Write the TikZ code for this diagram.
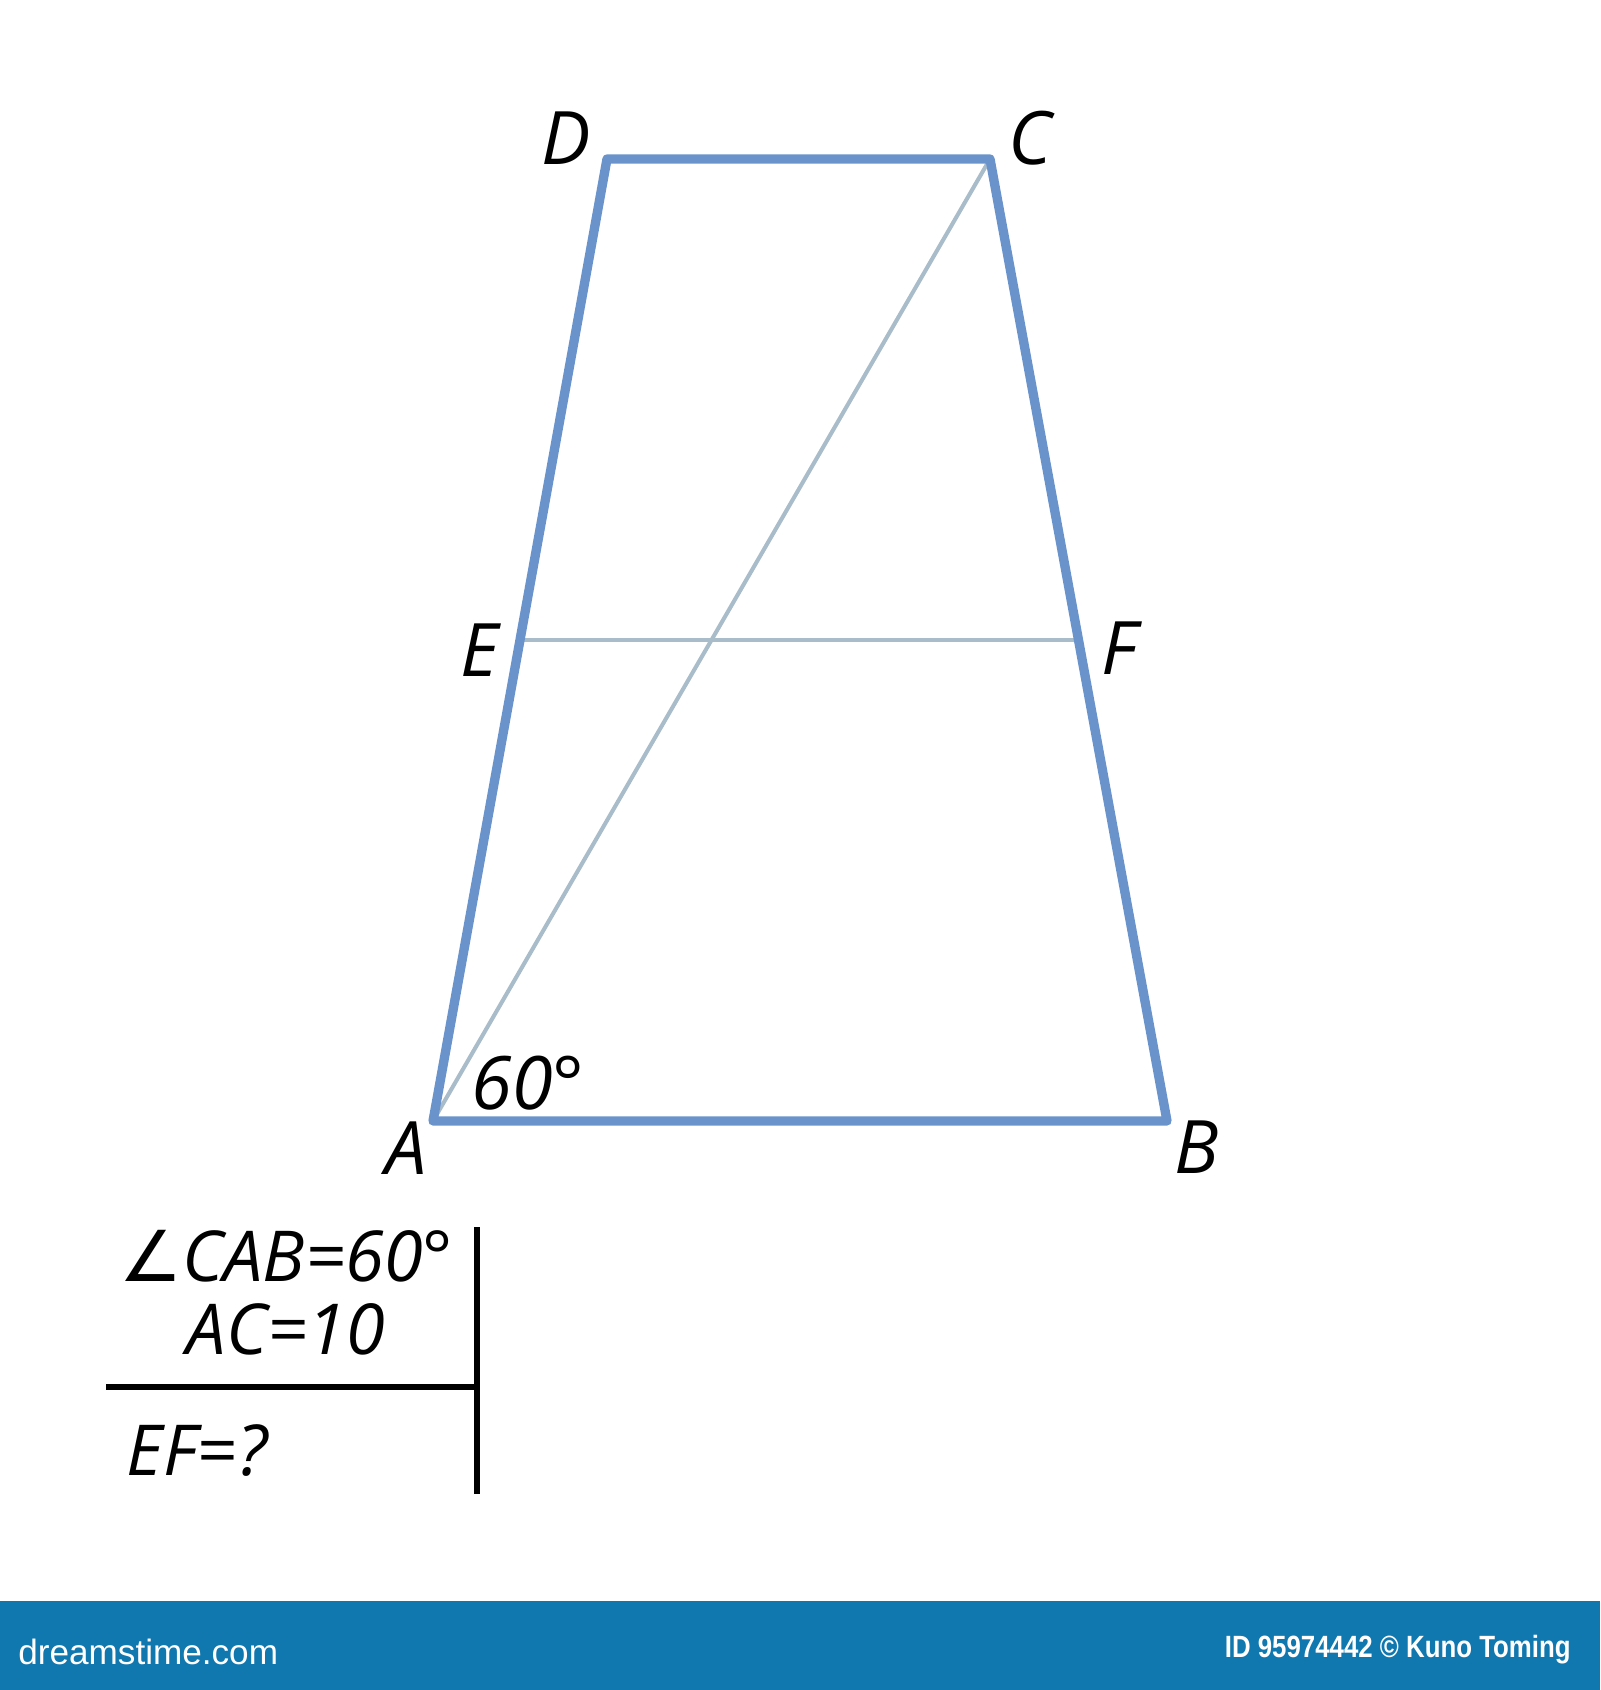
\documentclass[tikz,border=0pt]{standalone}
\usepackage{fontspec}
\usepackage{graphicx}
\setmainfont{Open Sans}
\newfontfamily\symfont{DejaVu Sans}
\newfontfamily\bannerfont{Liberation Sans}
\definecolor{sideblue}{HTML}{6A93CC}
\definecolor{diaggray}{HTML}{A9BCC9}
\definecolor{bannerblue}{HTML}{1077AF}
\begin{document}
\begin{tikzpicture}[x=0.02cm,y=-0.02cm]
        \tikzset{side/.style={draw=sideblue,line width=5.3pt,line join=round},
            diag/.style={draw=diaggray,line width=2.3pt},
            tablerule/.style={draw=black,line width=3.1pt},
            vertex/.style={font=\fontsize{42}{48}\selectfont\itshape,inner sep=0pt},
            given/.style={font=\fontsize{40}{46}\selectfont\itshape,inner sep=0pt},
            banner/.style={text=white,inner sep=0pt}}
        \useasboundingbox (0,0) rectangle (1600,1690);
        \fill[bannerblue] (0,1601) rectangle (1600,1690);
        \coordinate (A) at (433,1121);
        \coordinate (B) at (1167,1121);
        \coordinate (C) at (990,159);
        \coordinate (D) at (607,159);
        \coordinate (E) at (520,640);
        \coordinate (F) at (1078,640);
        \draw[diag] (A) -- (C);
        \draw[diag] (E) -- (F);
        \draw[side] (A) -- (B) -- (C) -- (D) -- cycle;
        \node[vertex] (labA) at (406,1148) {A};
        \node[vertex] (labB) at (1197,1147) {B};
        \node[vertex] (labC) at (1030,138) {C};
        \node[vertex] (labD) at (566,138) {D};
        \node[vertex] (labE) at (480,650) {E};
        \node[vertex] (labF) at (1119,648) {F};
        \node[vertex] (angle) at (528,1083) {60°};
        \node[given] (cab) at (286,1256) {{\symfont\upshape ∠}CAB=60°};
        \node[given] (ac) at (286,1329) {AC=10};
        \node[given] (ef) at (197,1451) {EF=?};
        \coordinate (hl) at (106,1387);
        \coordinate (vt) at (477,1227);
        \coordinate (vb) at (477,1494);
        \draw[tablerule] (hl) -- (hl -| vt);
        \draw[tablerule] (vt) -- (vb);
        \node[banner,anchor=west,font=\bannerfont\fontsize{20}{24}\selectfont] (site) at (18,1652) {dreamstime.com};
        \node[banner,anchor=east,font=\bannerfont\bfseries\fontsize{17.5}{20}\selectfont] (credit) at (1571,1650) {\scalebox{0.84}[1]{ID 95974442 © Kuno Toming}};
    \end{tikzpicture}
\end{document}
